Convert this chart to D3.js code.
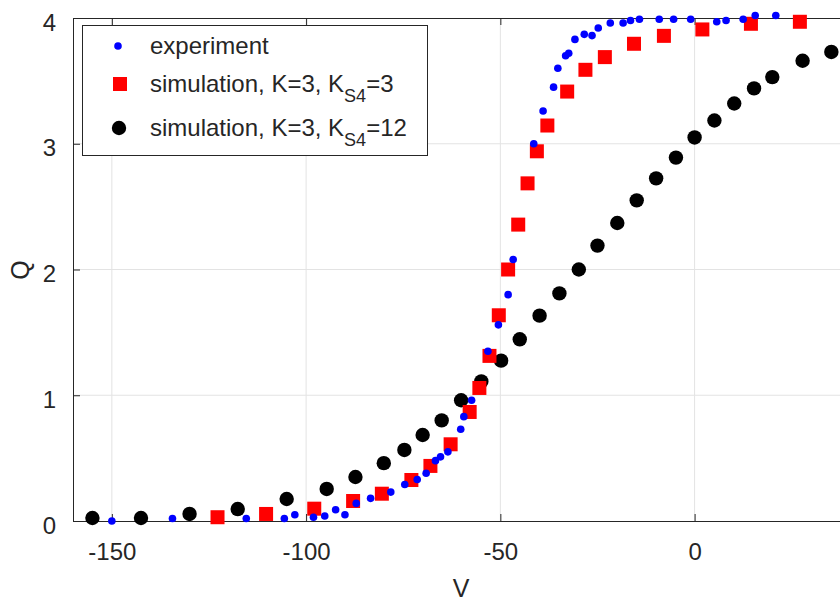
<!DOCTYPE html>
<html>
<head>
<meta charset="utf-8">
<script src="https://cdn.jsdelivr.net/npm/d3@7"></script>
<style>
  body { margin: 0; background: #fff; }
  svg { display: block; font-family: "Liberation Sans", Arial, sans-serif; }
</style>
</head>
<body>
<div id="chart"></div>
<script>
// experiment
const expV = [-150, -134.4, -115.4, -105.6, -102.9, -98.1, -95.2, -92.4, -90.0, -87.1,
  -83.4, -78.2, -74.6, -71.4, -69.1, -66.7, -65.4, -63.5, -60.2, -59.4,
  -57.4, -53.2, -50.5, -48.0, -46.7, -41.4, -39.0, -36.3, -35.2, -33.2,
  -32.4, -30.8, -28.4, -26.4, -24.8, -21.7, -18.4, -16.5, -14.2, -9.1,
  -5.4, -1.0, 5.7, 8.1, 12.5, 15.6, 20.9];
const expQ = [0.00, 0.02, 0.02, 0.02, 0.05, 0.03, 0.04, 0.09, 0.05, 0.14,
  0.18, 0.23, 0.29, 0.33, 0.38, 0.48, 0.51, 0.55, 0.73, 0.83,
  0.96, 1.35, 1.56, 1.80, 2.08, 3.00, 3.26, 3.45, 3.60, 3.70,
  3.72, 3.83, 3.87, 3.86, 3.92, 3.96, 3.96, 3.98, 3.99, 3.99,
  3.99, 3.99, 3.97, 3.98, 3.99, 4.02, 4.02];

// simulation K=3, KS4=3
const simV3 = [-122.8, -110.3, -97.9, -87.9, -80.5, -72.9, -68.0, -62.8, -57.9, -55.4,
  -52.8, -50.4, -48.0, -45.4, -43.0, -40.6, -37.9, -32.8, -28.1, -23.1,
  -15.6, -7.9, 2.0, 14.5, 27.1];
const simQ3 = [0.03, 0.056, 0.098, 0.159, 0.217, 0.326, 0.438, 0.61, 0.867, 1.058,
  1.313, 1.636, 2.0, 2.357, 2.685, 2.94, 3.145, 3.415, 3.588, 3.689,
  3.795, 3.858, 3.909, 3.954, 3.97];

// simulation K=3, KS4=12
const simV12 = [-155, -142.5, -130, -117.6, -105, -94.7, -87.3, -80, -74.7, -70,
  -65.1, -60.1, -54.9, -49.8, -45.0, -39.9, -34.8, -29.8, -25.0, -19.9,
  -14.9, -9.9, -4.8, 0, 5.1, 10.2, 15.3, 20.0, 27.8, 35.2];
const simQ12 = [0.024, 0.024, 0.056, 0.095, 0.175, 0.255, 0.35, 0.46, 0.565, 0.684,
  0.80, 0.96, 1.11, 1.275, 1.445, 1.633, 1.81, 2.0, 2.19, 2.37,
  2.55, 2.725, 2.89, 3.05, 3.185, 3.32, 3.44, 3.53, 3.66, 3.73];

const xTicks = [-150, -100, -50, 0];
const yTicks = [0, 1, 2, 3, 4];

const width = 840, height = 601;
const margin = { top: 18, left: 73, bottom: 80 };
const axisColor = "#262626";

const svg = d3.select("#chart").append("svg")
  .attr("width", width)
  .attr("height", height);

const x = d3.scaleLinear().domain([-160, 40]).range([margin.left, margin.left + 777]);
const y = d3.scaleLinear().domain([0, 4]).range([height - margin.bottom, margin.top]);

const plotRight = x(40);

// grid
svg.append("g").selectAll("line")
  .data(xTicks)
  .join("line")
  .attr("x1", d => x(d)).attr("x2", d => x(d))
  .attr("y1", y(0)).attr("y2", y(4))
  .attr("stroke", "#e3e3e3");
svg.append("g").selectAll("line")
  .data(yTicks.filter(d => d > 0 && d < 4))
  .join("line")
  .attr("x1", x(-160)).attr("x2", plotRight)
  .attr("y1", d => y(d)).attr("y2", d => y(d))
  .attr("stroke", "#e3e3e3");

// axes (MATLAB style, inward ticks, plain hyphen minus)
const fmt = d => String(d);
const xAxis = d3.axisBottom(x).tickValues(xTicks).tickSize(-7).tickPadding(22).tickFormat(fmt);
const xAxisTop = d3.axisTop(x).tickValues(xTicks).tickSize(-7).tickFormat("");
const yAxis = d3.axisLeft(y).tickValues(yTicks).tickSize(-7).tickPadding(17).tickFormat(fmt);

const styleAxis = g => {
  g.select(".domain").attr("stroke", axisColor);
  g.selectAll(".tick line").attr("stroke", axisColor);
  g.selectAll(".tick text")
    .attr("fill", axisColor)
    .style("font-size", "24px")
    .style("font-family", "Liberation Sans, Arial, sans-serif");
};

svg.append("g")
  .attr("transform", `translate(0,${y(0)})`)
  .call(xAxis)
  .call(styleAxis);
svg.append("g")
  .attr("transform", `translate(0,${y(4)})`)
  .call(xAxisTop)
  .call(styleAxis);
svg.append("g")
  .attr("transform", `translate(${x(-160)},0)`)
  .call(yAxis)
  .call(styleAxis)
  .selectAll(".tick text")
  .attr("dy", "0.5em");

// axis labels
svg.append("text")
  .attr("x", 461)
  .attr("y", 597)
  .attr("text-anchor", "middle")
  .attr("fill", axisColor)
  .style("font-size", "25px")
  .text("V");
svg.append("text")
  .attr("transform", "translate(29,270) rotate(-90)")
  .attr("text-anchor", "middle")
  .attr("fill", axisColor)
  .style("font-size", "25px")
  .text("Q");

// series
const zip = (vs, qs) => vs.map((v, i) => ({ v: v, q: qs[i] }));

svg.append("g").selectAll("circle")
  .data(zip(simV12, simQ12))
  .join("circle")
  .attr("cx", d => x(d.v))
  .attr("cy", d => y(d.q))
  .attr("r", 7.2)
  .attr("fill", "#000");

svg.append("g").selectAll("rect")
  .data(zip(simV3, simQ3))
  .join("rect")
  .attr("x", d => x(d.v) - 7)
  .attr("y", d => y(d.q) - 7)
  .attr("width", 14)
  .attr("height", 14)
  .attr("fill", "#ff0000");

svg.append("g").selectAll("circle")
  .data(zip(expV, expQ))
  .join("circle")
  .attr("cx", d => x(d.v))
  .attr("cy", d => y(d.q))
  .attr("r", 3.8)
  .attr("fill", "#0000ff");

// legend
const legend = svg.append("g");
legend.append("rect")
  .attr("x", 82.5).attr("y", 25.5)
  .attr("width", 345).attr("height", 130)
  .attr("fill", "#fff")
  .attr("stroke", axisColor);

const rows = [
  { kind: "exp", y: 46, main: "experiment" },
  { kind: "sq", y: 84, main: "simulation, K=3, K", sub: "S4", tail: "=3" },
  { kind: "bk", y: 128, main: "simulation, K=3, K", sub: "S4", tail: "=12" }
];

rows.forEach(r => {
  if (r.kind === "exp") {
    legend.append("circle").attr("cx", 118).attr("cy", r.y).attr("r", 3.8).attr("fill", "#0000ff");
  } else if (r.kind === "sq") {
    legend.append("rect").attr("x", 113).attr("y", r.y - 7).attr("width", 14).attr("height", 14).attr("fill", "#ff0000");
  } else {
    legend.append("circle").attr("cx", 119).attr("cy", r.y).attr("r", 7.2).attr("fill", "#000");
  }
  const t = legend.append("text")
    .attr("x", 150)
    .attr("y", r.y + 8)
    .attr("fill", axisColor)
    .style("font-size", "24px")
    .text(r.main);
  if (r.sub) {
    t.append("tspan").attr("dy", 10).style("font-size", "18px").text(r.sub);
    t.append("tspan").attr("dy", -10).text(r.tail);
  }
});
</script>
</body>
</html>
